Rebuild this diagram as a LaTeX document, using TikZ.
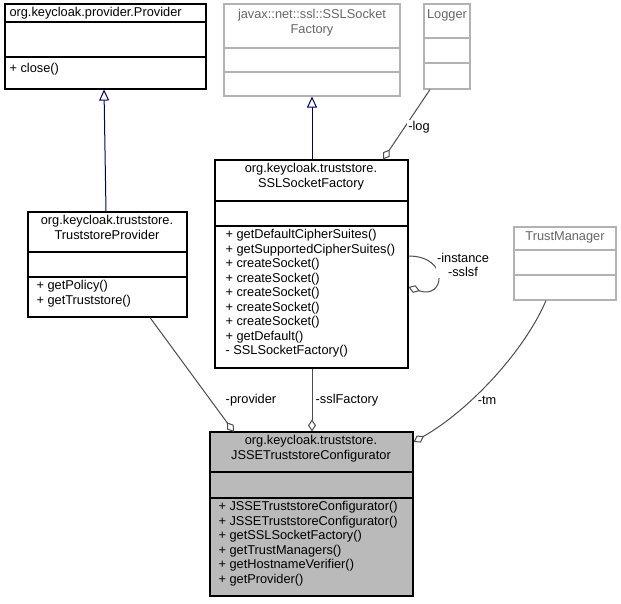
\documentclass[tikz,border=0pt]{standalone}
\usepackage{fontspec}
\setmainfont{Liberation Sans}
\usetikzlibrary{arrows.meta, calc}

% class box: name, left, top, right, bottom, first rule, second rule, colour, fill
\newcommand\umlbox[9]{%
  \pgfmathsetmacro\bw{#4-#2}\pgfmathsetmacro\bh{#5-#3}%
  \node[classbox, draw=#8, fill=#9, minimum width=\bw pt, minimum height=\bh pt] (#1) at ({(#2+#4)/2},{(#3+#5)/2}) {};
  \draw[#8, line width=1.1pt] (#2,#6) -- (#4,#6) (#2,#7) -- (#4,#7);
}

\begin{document}
\begin{tikzpicture}[x=1pt, y=-1pt, line width=1pt,
    classbox/.style={rectangle, inner sep=0pt, line width=1.1pt},
    txt/.style={inner sep=0pt, font=\fontsize{12.8}{14.5}\selectfont, text=black},
    inherit/.style={draw=blue!45!black, -{Triangle[open, length=11pt, width=10pt]}},
    member/.style={draw=black!70, -{Diamond[open, length=12pt, width=8pt]}},
    lbl/.style={txt, fill=white, inner sep=1pt}]
    \useasboundingbox (0,0) rectangle (621,603);

    % Nodes
    \umlbox{provider}{5}{4}{206}{89}{22}{57}{black}{white}
    \umlbox{javaxsf}{224}{4}{400}{96}{48}{72}{black!30}{white}
    \umlbox{logger}{424}{4}{470}{89}{38}{63}{black!30}{white}
    \umlbox{sslsf}{215}{160}{408}{368}{201}{226}{black}{white}
    \umlbox{tsprovider}{28}{212}{187}{317}{252}{277}{black}{white}
    \umlbox{trustmgr}{514}{227}{616}{300}{250}{275}{black!30}{white}
    \umlbox{jsse}{210}{432}{413}{596}{472}{498}{black}{black!27}

    \node[txt, anchor=north west] at (9,7) {org.keycloak.provider.Provider};
    \node[txt, anchor=north west, align=left] at (9,63) {+ close()};
    \node[txt, anchor=north, align=center, text=black!60] at (312,9) {javax::net::ssl::SSLSocket\\Factory};
    \node[txt, anchor=north, text=black!60] at (447,9) {Logger};
    \node[txt, anchor=north, align=center] at (311,163) {org.keycloak.truststore.\\SSLSocketFactory};
    \node[txt, anchor=north west, align=left] at (225,229) {+ getDefaultCipherSuites()\\+ getSupportedCipherSuites()\\+ createSocket()\\+ createSocket()\\+ createSocket()\\+ createSocket()\\+ createSocket()\\+ getDefault()\\- SSLSocketFactory()};
    \node[txt, anchor=north, align=center] at (107,215) {org.keycloak.truststore.\\TruststoreProvider};
    \node[txt, anchor=north west, align=left] at (36,280) {+ getPolicy()\\+ getTruststore()};
    \node[txt, anchor=north, text=black!60] at (565,231) {TrustManager};
    \node[txt, anchor=north, align=center] at (311,435) {org.keycloak.truststore.\\JSSETruststoreConfigurator};
    \node[txt, anchor=north west, align=left] at (218,501) {+ JSSETruststoreConfigurator()\\+ JSSETruststoreConfigurator()\\+ getSSLSocketFactory()\\+ getTrustManagers()\\+ getHostnameVerifier()\\+ getProvider()};

    % Paths
    \draw[inherit] (tsprovider.north -| 106,0) -- (provider.south -| 104,0);
    \draw[inherit] (sslsf.north -| 312,0) -- (javaxsf.south -| 312,0);
    \draw[member] (logger.south -| 430,0) -- (sslsf.north -| 383,0);
    \draw[member] (sslsf.east |- 0,256) .. controls (450,256) and (445,300) .. (sslsf.east |- 0,287);
    \draw[member] (tsprovider.south -| 150,0) -- (234,432);
    \draw[member] (sslsf.south -| 312,0) -- (jsse.north -| 312,0);
    \draw[member] (trustmgr.south -| 546,0) .. controls (525,350) and (470,410) .. (jsse.north east |- 0,442);

    \node[lbl] at (419,127) {-log};
    \node[lbl, align=center] at (463,265) {-instance\\-sslsf};
    \node[lbl] at (251,400) {-provider};
    \node[lbl] at (347,400) {-sslFactory};
    \node[lbl] at (487,400) {-tm};
\end{tikzpicture}
\end{document}
